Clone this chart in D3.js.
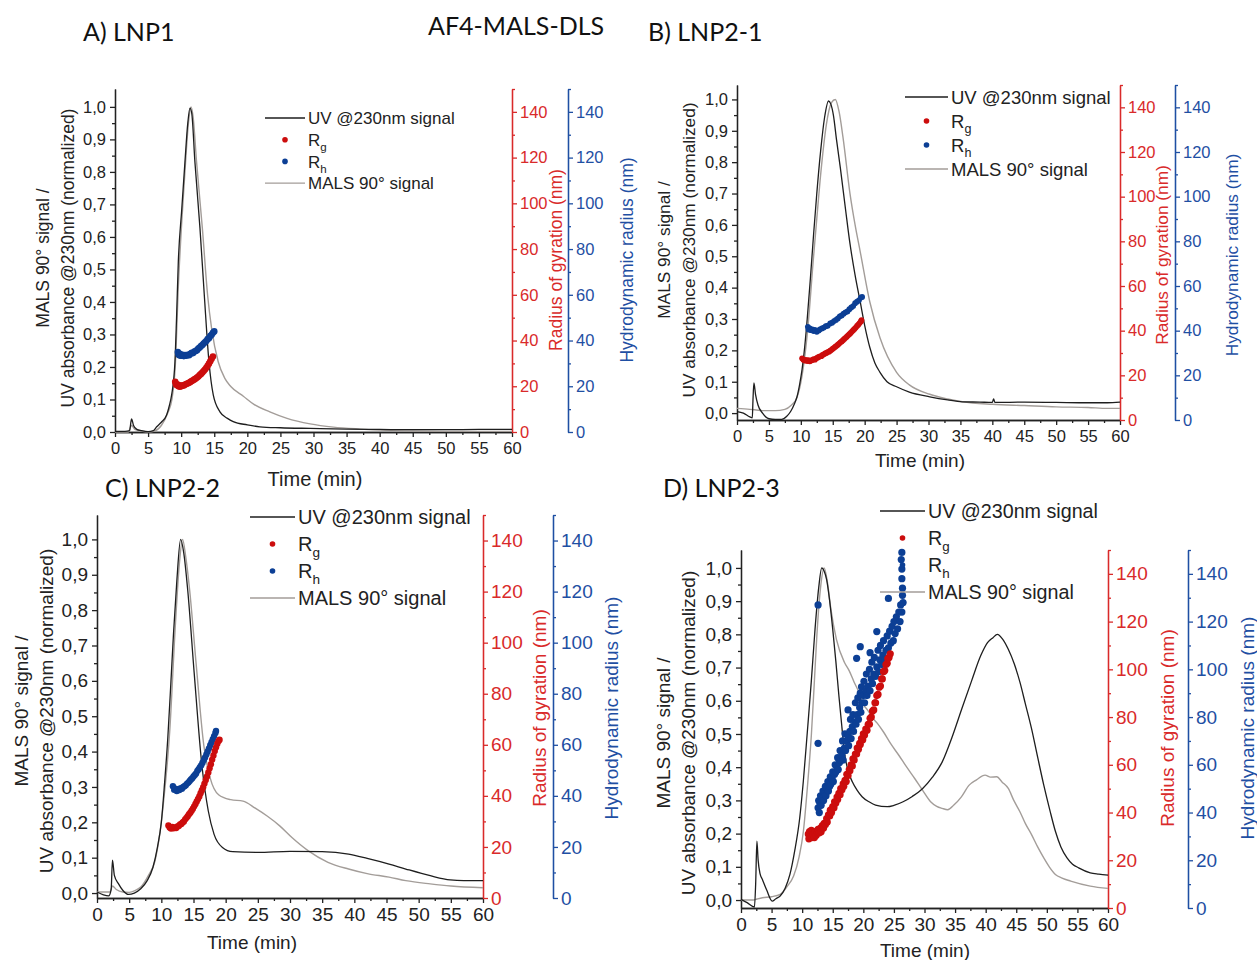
<!DOCTYPE html>
<html>
<head>
<meta charset="utf-8">
<script src="https://cdn.jsdelivr.net/npm/d3@7"></script>
<style>
  body { margin: 0; background: #fff; }
  text { font-family: "Liberation Sans", Arial, sans-serif; }
</style>
</head>
<body>
<script>
// tick values shared by all four panels
const timeTicks = [0, 5, 10, 15, 20, 25, 30, 35, 40, 45, 50, 55, 60]
const timeMinor = [2.5, 7.5, 12.5, 17.5, 22.5, 27.5, 32.5, 37.5, 42.5, 47.5, 52.5, 57.5]
const signalTicks = [0, 0.1, 0.2, 0.3, 0.4, 0.5, 0.6, 0.7, 0.8, 0.9, 1.0]
const signalMinor = [0.05, 0.15, 0.25, 0.35, 0.45, 0.55, 0.65, 0.75, 0.85, 0.95]
const radiusTicks = [0, 20, 40, 60, 80, 100, 120, 140]
const radiusMinor = [10, 30, 50, 70, 90, 110, 130, 150]
const legendNames = ['UV @230nm signal', 'R', 'R', 'MALS 90° signal']
const legendSubs = ['', 'g', 'h', '']

// A) LNP1  [time (min), value]
const uvA = [[0,0.002],[1.5,0.002],[2.2,0.004],[2.5,0.04],[2.8,0.02],[3.3,0.008],[4,0.004],[5,0.001],[5.8,0.004],[6.3,0.016],[7,0.03],[7.8,0.052],[8.2,0.08],[8.56,0.114],[9.06,0.216],[9.3,0.35],[9.57,0.524],[10.07,0.68],[10.57,0.83],[11,0.95],[11.33,0.996],[11.6,0.98],[12.08,0.83],[12.84,0.627],[13.5,0.42],[14.2,0.216],[14.85,0.114],[15.86,0.062],[17,0.042],[17.87,0.032],[20,0.022],[21.9,0.016],[25,0.013],[29.5,0.011],[35,0.009],[40,0.008],[45,0.007],[50,0.007],[55,0.008],[60,0.008]]
const malsA = [[0,0.0],[2,0.0],[2.5,0.02],[3,0.008],[4,0.003],[5,0.0],[6,0.003],[7,0.02],[8,0.06],[8.6,0.1],[9.1,0.2],[9.6,0.46],[10.1,0.65],[10.6,0.81],[11.1,0.95],[11.5,1.0],[11.8,0.97],[12.33,0.83],[13.2,0.627],[14.0,0.42],[14.6,0.319],[15.6,0.216],[16.6,0.165],[17.5,0.14],[19.4,0.11],[21,0.085],[23.4,0.062],[26,0.042],[29.5,0.025],[33,0.015],[37,0.009],[41,0.005],[45,0.003],[50,0.002],[55,0.002],[60,0.002]]
const rgA = [[9.1,22.0],[9.2,21.0],[9.3,20.6],[9.4,20.9],[9.5,20.3],[9.6,20.0],[9.7,20.4],[9.8,19.8],[9.9,20.2],[10.0,20.0],[10.2,20.4],[10.4,20.3],[10.6,20.8],[10.8,21.0],[11.0,21.3],[11.2,21.5],[11.4,21.9],[11.6,22.3],[11.8,22.6],[12.0,23.0],[12.2,23.4],[12.4,23.8],[12.6,24.3],[12.8,24.9],[13.0,25.4],[13.2,26.0],[13.4,26.7],[13.6,27.3],[13.8,28.1],[14.0,29.0],[14.2,29.9],[14.4,30.9],[14.6,32.0],[14.8,33.0]]
const rhA = [[9.5,35.0],[9.6,34.0],[9.7,33.6],[9.8,34.2],[9.9,33.5],[10.0,33.4],[10.2,33.8],[10.4,33.2],[10.6,33.6],[10.8,33.4],[11.0,33.8],[11.2,33.6],[11.4,34.2],[11.6,34.6],[11.8,34.5],[12.0,35.2],[12.2,35.4],[12.4,35.8],[12.6,36.5],[12.8,36.9],[13.0,37.6],[13.2,38.0],[13.4,38.7],[13.6,39.2],[13.8,39.8],[14.0,40.6],[14.2,41.0],[14.4,42.0],[14.6,42.5],[14.8,43.4],[15.0,44.0]]

// B) LNP2-1
const uvB = [[0,0.005],[1,0.0],[2,-0.012],[2.4,-0.015],[2.5,0.04],[2.65,0.096],[2.9,0.06],[3.3,0.025],[4,0.0],[5,-0.018],[6,-0.02],[7,-0.02],[7.8,-0.01],[8.4,0.005],[9,0.03],[9.4,0.052],[9.8,0.09],[10.2,0.14],[10.6,0.21],[11,0.30],[11.5,0.43],[12,0.57],[12.5,0.7],[13.1,0.835],[13.7,0.94],[14.35,0.995],[14.7,0.985],[15.1,0.95],[15.6,0.87],[16.2,0.78],[17,0.65],[17.7,0.54],[18.5,0.44],[19.3,0.355],[20,0.28],[20.8,0.21],[21.6,0.16],[22.4,0.13],[23.5,0.1],[25,0.084],[27,0.067],[30.2,0.052],[33,0.042],[35.3,0.036],[38,0.035],[40,0.034],[40.2,0.045],[40.4,0.034],[45,0.035],[50,0.034],[55,0.033],[58,0.033],[60,0.035]]
const malsB = [[0,0.015],[2,0.012],[3,0.01],[4,0.008],[6,0.008],[7.5,0.012],[8.5,0.025],[9.4,0.05],[10.2,0.12],[11,0.25],[12,0.50],[12.5,0.62],[13.2,0.78],[14,0.92],[14.8,0.99],[15.4,1.0],[16,0.96],[16.6,0.88],[17.7,0.70],[18.5,0.6],[19.3,0.515],[20.8,0.355],[22.4,0.24],[25,0.13],[27,0.09],[30.2,0.06],[33,0.045],[35.3,0.036],[40,0.028],[45,0.024],[50,0.02],[55,0.018],[58,0.015],[60,0.015]]
const rgB = [[10.2,27.6],[10.4,27.0],[10.6,26.6],[10.8,26.9],[11.0,26.4],[11.2,26.8],[11.4,26.3],[11.6,26.6],[11.8,26.9],[12.0,27.2],[12.2,27.0],[12.4,27.6],[12.6,27.9],[12.8,28.2],[13.0,28.5],[13.2,28.6],[13.4,29.1],[13.6,29.4],[13.8,29.8],[14.0,30.0],[14.2,30.4],[14.4,30.6],[14.6,31.0],[14.8,31.4],[15.0,31.9],[15.2,32.3],[15.4,32.8],[15.6,33.2],[15.8,33.7],[16.0,34.2],[16.2,34.8],[16.4,35.2],[16.6,35.7],[16.8,36.3],[17.0,36.8],[17.2,37.3],[17.4,37.9],[17.6,38.4],[17.8,39.0],[18.0,39.6],[18.2,40.2],[18.4,40.8],[18.6,41.4],[18.8,42.1],[19.0,42.7],[19.2,43.4],[19.4,44.1],[19.5,44.7]]
const rhB = [[11.1,41.7],[11.2,40.5],[11.4,41.0],[11.6,40.2],[11.8,40.6],[12.0,39.8],[12.2,40.3],[12.5,39.5],[12.8,40.1],[13.0,40.6],[13.3,41.0],[13.6,41.4],[13.9,42.0],[14.2,42.2],[14.6,43.2],[14.9,43.6],[15.2,44.3],[15.5,44.8],[15.8,45.5],[16.1,46.4],[16.4,46.8],[16.7,47.6],[17.0,48.2],[17.3,48.6],[17.6,49.6],[17.9,50.4],[18.2,51.0],[18.5,52.3],[18.8,53.0],[19.1,53.6],[19.4,54.8],[19.6,55.1]]

// C) LNP2-2
const uvC = [[0,0.003],[1,-0.005],[1.8,-0.008],[2.2,0.01],[2.4,0.093],[2.7,0.05],[3.35,0.026],[4,0.008],[4.9,-0.004],[5.8,0.0],[6.8,0.012],[7.8,0.035],[8.7,0.073],[9.4,0.13],[10,0.2],[10.5,0.31],[11,0.437],[11.5,0.6],[11.9,0.736],[12.4,0.88],[13.0,1.0],[13.5,0.96],[14.1,0.857],[15.1,0.624],[16.3,0.362],[17.3,0.232],[18.2,0.166],[19.5,0.129],[21.1,0.117],[25,0.115],[30,0.118],[35,0.117],[39.1,0.11],[42,0.098],[45.4,0.082],[48,0.068],[51.8,0.049],[54.9,0.037],[57,0.035],[60,0.035]]
const malsC = [[0,0.003],[2,0.003],[2.4,0.02],[3,0.01],[4,0.003],[5,0.002],[6,0.008],[6.8,0.017],[8,0.05],[9,0.09],[9.7,0.16],[10.3,0.25],[11.3,0.456],[12.2,0.764],[12.8,0.93],[13.3,1.0],[13.8,0.95],[14.4,0.857],[15.4,0.65],[16.6,0.418],[17.6,0.325],[18.9,0.278],[20.8,0.264],[22.7,0.26],[24.6,0.24],[26.5,0.217],[28.4,0.19],[30.3,0.157],[32.8,0.12],[35.9,0.087],[39.1,0.068],[42,0.055],[45.4,0.045],[48,0.035],[51.8,0.026],[55,0.02],[60,0.015]]
const rgC = [[11.1,28.4],[11.3,27.6],[11.5,27.2],[11.7,27.8],[11.9,27.3],[12.1,27.6],[12.3,27.4],[12.5,28.0],[12.7,28.2],[12.9,28.8],[13.1,29.0],[13.3,29.6],[13.5,30.0],[13.7,30.8],[13.9,31.4],[14.1,32.0],[14.3,32.8],[14.5,33.4],[14.7,34.2],[14.9,35.0],[15.1,35.9],[15.3,36.8],[15.5,37.8],[15.7,38.8],[15.9,39.8],[16.1,41.0],[16.3,42.2],[16.5,43.4],[16.7,44.8],[16.9,46.2],[17.1,47.6],[17.3,49.2],[17.5,50.8],[17.7,52.4],[17.9,54.2],[18.1,55.8],[18.3,57.6],[18.5,59.0],[18.7,60.4],[18.9,61.5],[19.05,62.0]]
const rhC = [[11.8,43.8],[12.0,42.4],[12.2,42.8],[12.4,41.9],[12.6,42.6],[12.8,42.3],[13.0,43.0],[13.2,42.8],[13.4,43.5],[13.6,43.8],[13.8,44.2],[14.0,44.8],[14.2,45.2],[14.4,45.8],[14.6,46.4],[14.8,46.9],[15.0,47.6],[15.2,48.2],[15.4,48.8],[15.6,49.8],[15.8,50.4],[16.0,51.2],[16.2,52.0],[16.4,53.0],[16.6,54.0],[16.8,55.0],[17.0,56.2],[17.2,57.4],[17.4,58.6],[17.6,59.8],[17.8,61.0],[18.0,62.2],[18.2,63.4],[18.4,64.6],[18.5,65.4]]

// D) LNP2-3
const uvD = [[0,0.002],[1,-0.008],[2.2,-0.021],[2.4,0.05],[2.6,0.177],[2.8,0.12],[3.1,0.08],[3.5,0.062],[4.2,0.03],[5.1,-0.003],[5.7,0.004],[6.4,0.012],[7.2,0.035],[8,0.077],[8.8,0.15],[9.6,0.247],[10.2,0.36],[10.8,0.496],[11.5,0.66],[12.1,0.815],[12.7,0.94],[13.2,1.0],[13.6,0.99],[14,0.965],[14.5,0.9],[15,0.815],[15.5,0.72],[16,0.616],[16.5,0.52],[16.9,0.446],[17.5,0.39],[18.2,0.356],[19,0.33],[19.8,0.311],[21,0.295],[22,0.286],[23.9,0.281],[25,0.285],[26.5,0.296],[28,0.312],[29.7,0.336],[31.3,0.37],[32.9,0.416],[34.5,0.49],[36.1,0.576],[37.7,0.66],[39.2,0.736],[40.3,0.775],[41.2,0.79],[41.9,0.8],[42.8,0.785],[43.7,0.755],[44.7,0.71],[45.6,0.656],[46.5,0.59],[47.5,0.516],[48.5,0.43],[49.5,0.346],[50.5,0.27],[51.4,0.207],[52.3,0.16],[53.3,0.127],[54.2,0.108],[55.2,0.097],[57.1,0.082],[58.5,0.078],[60,0.075]]
const malsD = [[0,0.0],[2,0.0],[2.6,0.003],[3.5,0.007],[5,0.01],[6.4,0.017],[7.5,0.04],[8.6,0.072],[9.5,0.13],[10.2,0.207],[10.9,0.35],[11.5,0.496],[12,0.66],[12.4,0.795],[13,0.94],[13.6,1.0],[14.1,0.96],[14.7,0.875],[15.6,0.785],[16.9,0.716],[17.7,0.69],[18.5,0.656],[19.3,0.625],[20.1,0.586],[20.7,0.572],[21.4,0.551],[22.3,0.532],[23.3,0.506],[24.5,0.47],[25.8,0.436],[27.1,0.4],[28.4,0.366],[29.7,0.33],[31,0.296],[32,0.282],[32.9,0.276],[33.8,0.272],[34.8,0.286],[36,0.31],[37.3,0.346],[38.5,0.362],[39.9,0.376],[40.8,0.37],[41.8,0.371],[42.7,0.355],[43.7,0.336],[44.6,0.3],[45.6,0.266],[46.5,0.23],[47.5,0.197],[48.5,0.16],[49.5,0.127],[50.4,0.1],[51.4,0.077],[52.5,0.066],[53.9,0.057],[57.1,0.042],[60,0.035]]
const rgD = [[11.0,31],[11.1,29],[11.2,32],[11.4,30],[11.5,32.5],[11.6,29.5],[11.8,31],[12.0,29.5],[12.1,32],[12.3,30.5],[12.5,31.5],[12.6,33],[12.8,31.5],[13.0,33.5],[13.1,32],[13.3,34.5],[13.5,33.5],[13.6,35.5],[13.8,35],[14.0,37.5],[14.1,36],[14.3,39],[14.5,38.5],[14.6,41],[14.8,40],[15.0,42.5],[15.2,42],[15.3,44.5],[15.5,44],[15.7,46.5],[15.8,45.5],[16.0,48],[16.2,47.5],[16.3,50],[16.5,49.5],[16.7,52],[16.8,51],[17.0,53.5],[17.2,53],[17.3,56],[17.5,55.5],[17.7,58],[17.8,57.5],[18.0,60],[18.2,59.5],[18.3,62.5],[18.5,62],[18.7,64.5],[18.9,64.5],[19.0,67],[19.2,66.5],[19.4,69],[19.5,68.5],[19.7,71],[19.9,70.5],[20.0,73],[20.2,72.5],[20.4,75],[20.6,74.5],[20.8,77],[21.0,77],[21.1,79.5],[21.3,80],[21.5,82.5],[21.7,83],[21.9,86],[22.0,86],[22.2,89],[22.4,89.5],[22.6,92.5],[22.8,93],[23.0,96],[23.1,96],[23.3,99],[23.5,99.5],[23.7,102],[23.9,102.5],[24.0,104.5],[24.2,105],[24.4,106.5]]
const rhD = [[12.6,127],[12.6,69],[12.6,42],[12.7,45],[12.8,40],[12.9,44],[13.0,47],[13.1,43],[13.3,46],[13.4,49],[13.5,45],[13.7,48],[13.8,51],[13.9,47],[14.1,50],[14.2,53],[14.3,49],[14.5,51],[14.6,55],[14.7,52],[14.9,54],[15.0,57],[15.1,53],[15.3,56],[15.4,60],[15.5,57],[15.7,59],[15.8,63],[15.9,58],[16.1,61],[16.2,66],[16.3,62],[16.5,64],[16.6,70],[16.7,62],[16.9,67],[17.0,73],[17.1,66],[17.3,70],[17.5,83],[17.5,72],[17.6,68],[17.8,74],[17.9,79],[18.0,71],[18.2,76],[18.3,81],[18.4,74],[18.6,78],[18.7,86],[18.8,77],[18.9,104.6],[19.0,81],[19.1,88],[19.2,79],[19.4,84],[19.5,109.5],[19.5,90],[19.6,82],[19.7,92.7],[19.8,86],[20.0,89],[20.1,95],[20.2,86],[20.4,91],[20.5,98],[20.6,89],[20.8,93],[21.0,100],[21.1,107],[21.1,91],[21.3,96],[21.4,103],[21.5,94],[21.7,98],[21.8,105],[22.0,97],[22.2,115.8],[22.2,101],[22.4,108],[22.5,99],[22.7,104],[22.8,110],[23.0,102],[23.2,106],[23.3,112],[23.5,104],[23.7,108],[23.9,114],[24.1,129.7],[24.1,109],[24.3,116],[24.5,111],[24.7,118],[24.9,112],[25.0,120],[25.2,115],[25.4,122],[25.6,117],[25.8,124],[26.0,120],[26.1,127],[26.3,124],[26.4,131],[26.5,128],[26.4,134],[26.3,138],[26.3,142],[26.2,146],[26.3,149]]

const RED = '#d92a2a'
const BLUE = '#1f4fa3'
const RED_DOT = '#cc0d0d'
const BLUE_DOT = '#0c3f95'

const svg = d3.select('body').append('svg')
  .attr('width', 1257)
  .attr('height', 960)

// panel headings
const headings = [
  { text: 'A) LNP1', x: 83, y: 41 },
  { text: 'AF4-MALS-DLS', x: 428, y: 35 },
  { text: 'B) LNP2-1', x: 648, y: 41 },
  { text: 'C) LNP2-2', x: 105, y: 497 },
  { text: 'D) LNP2-3', x: 663, y: 497 }
]
svg.selectAll('text.heading').data(headings).enter().append('text')
  .attr('class', 'heading')
  .attr('x', d => d.x)
  .attr('y', d => d.y)
  .attr('font-size', 25)
  .style('font-family', 'Lato, "Open Sans", sans-serif')
  .attr('fill', '#111')
  .text(d => d.text)

function drawPanel(p) {
  const g = svg.append('g')
  const x = d3.scaleLinear().domain([0, 60]).range([p.left, p.right])
  const y = d3.scaleLinear().domain(p.yDomain).range([p.bottom, p.top])
  const rad = d3.scaleLinear().domain([0, 150]).range([p.bottom, p.top])
  const comma = d => d3.format('.1f')(d).replace('.', ',')

  const styleAxis = (a, color) => {
    a.attr('font-family', '"Liberation Sans", Arial, sans-serif').attr('font-size', p.fs)
    a.selectAll('path, line').attr('stroke', color).attr('stroke-width', 1.3)
    a.selectAll('text').attr('fill', color)
  }

  // bottom axis
  g.append('g').attr('transform', `translate(0,${p.bottom})`)
    .call(d3.axisBottom(x).tickValues(timeMinor).tickSize(3).tickSizeOuter(0).tickFormat(''))
    .call(a => styleAxis(a, '#222'))
  g.append('g').attr('transform', `translate(0,${p.bottom})`)
    .call(d3.axisBottom(x).tickValues(timeTicks).tickSize(5).tickSizeOuter(0).tickPadding(5))
    .call(a => styleAxis(a, '#222'))

  // left axis
  g.append('g').attr('transform', `translate(${p.left},0)`)
    .call(d3.axisLeft(y).tickValues(signalMinor).tickSize(3).tickSizeOuter(0).tickFormat(''))
    .call(a => styleAxis(a, '#222'))
  g.append('g').attr('transform', `translate(${p.left},0)`)
    .call(d3.axisLeft(y).tickValues(signalTicks).tickSize(5).tickSizeOuter(0).tickPadding(4).tickFormat(comma))
    .call(a => styleAxis(a, '#222'))

  // right axes: radius of gyration (red) and hydrodynamic radius (blue)
  const rightAxis = (xPos, color) => {
    g.append('g').attr('transform', `translate(${xPos},0)`)
      .call(d3.axisRight(rad).tickValues(radiusMinor).tickSize(3).tickSizeOuter(0).tickFormat(''))
      .call(a => styleAxis(a, color))
    g.append('g').attr('transform', `translate(${xPos},0)`)
      .call(d3.axisRight(rad).tickValues(radiusTicks).tickSize(5).tickSizeOuter(0).tickPadding(3))
      .call(a => styleAxis(a, color))
  }
  rightAxis(p.right, RED)
  rightAxis(p.blueX, BLUE)

  // axis titles
  const vTitle = (xPos, yPos, text, color) => {
    g.append('text')
      .attr('transform', `translate(${xPos},${yPos}) rotate(-90)`)
      .attr('text-anchor', 'middle')
      .attr('font-size', p.tfs)
      .attr('fill', color)
      .text(text)
  }
  vTitle(p.leftTitleX[0], p.leftTitleY, 'MALS 90° signal /', '#222')
  vTitle(p.leftTitleX[1], p.leftTitleY, 'UV absorbance @230nm (normalized)', '#222')
  vTitle(p.redTitleX, p.rightTitleY, 'Radius of gyration (nm)', RED)
  vTitle(p.blueTitleX, p.rightTitleY, 'Hydrodynamic radius (nm)', BLUE)
  g.append('text')
    .attr('x', p.timeX).attr('y', p.timeY)
    .attr('text-anchor', 'middle')
    .attr('font-size', p.timeFs)
    .attr('fill', '#222')
    .text('Time (min)')

  // signals
  const line = d3.line().x(d => x(d[0])).y(d => y(d[1])).curve(d3.curveMonotoneX)
  g.append('path').datum(p.mals).attr('d', line)
    .attr('fill', 'none').attr('stroke', '#a39d99').attr('stroke-width', 1.4)
  g.append('path').datum(p.uv).attr('d', line)
    .attr('fill', 'none').attr('stroke', '#1e1e1e').attr('stroke-width', 1.3)

  // radii
  g.append('g').selectAll('circle').data(p.rh).enter().append('circle')
    .attr('cx', d => x(d[0])).attr('cy', d => rad(d[1])).attr('r', p.dotR).attr('fill', BLUE_DOT)
  g.append('g').selectAll('circle').data(p.rg).enter().append('circle')
    .attr('cx', d => x(d[0])).attr('cy', d => rad(d[1])).attr('r', p.dotR).attr('fill', RED_DOT)

  // legend
  const L = p.legend
  legendNames.forEach((name, i) => {
    const ly = L.y + i * L.dy
    if (i === 0 || i === 3) {
      g.append('line').attr('x1', L.x0).attr('x2', L.x1).attr('y1', ly).attr('y2', ly)
        .attr('stroke', i === 0 ? '#1e1e1e' : '#a39d99').attr('stroke-width', 1.4)
    } else {
      g.append('circle').attr('cx', (L.x0 + L.x1) / 2).attr('cy', ly).attr('r', 2.8)
        .attr('fill', i === 1 ? RED_DOT : BLUE_DOT)
    }
    const t = g.append('text').attr('x', L.x1 + 3).attr('y', ly + L.fs * 0.36)
      .attr('font-size', L.fs).attr('fill', '#222').text(name)
    if (legendSubs[i]) {
      t.append('tspan').attr('dy', L.fs * 0.3).attr('font-size', L.fs * 0.68).text(legendSubs[i])
    }
  })
}

const panels = [
  { uv: uvA, mals: malsA, rg: rgA, rh: rhA,
    left: 115, right: 512, bottom: 432, top: 89, yDomain: [0, 1.055], blueX: 568,
    fs: 16.5, tfs: 17.5, timeFs: 20, dotR: 3.3,
    leftTitleX: [49, 74], leftTitleY: 258, redTitleX: 562, blueTitleX: 633, rightTitleY: 260,
    timeX: 315, timeY: 486,
    legend: { x0: 265, x1: 305, y: 118, dy: 21.7, fs: 17 } },
  { uv: uvB, mals: malsB, rg: rgB, rh: rhB,
    left: 737, right: 1120, bottom: 420, top: 85, yDomain: [-0.022, 1.046], blueX: 1175,
    fs: 16.5, tfs: 17.3, timeFs: 19, dotR: 2.9,
    leftTitleX: [670, 695], leftTitleY: 250, redTitleX: 1168, blueTitleX: 1238, rightTitleY: 255,
    timeX: 920, timeY: 467,
    legend: { x0: 905, x1: 948, y: 97, dy: 24, fs: 18.5 } },
  { uv: uvC, mals: malsC, rg: rgC, rh: rhC,
    left: 97, right: 483, bottom: 898, top: 515, yDomain: [-0.014, 1.069], blueX: 553,
    fs: 19, tfs: 19, timeFs: 19, dotR: 3.2,
    leftTitleX: [28, 53], leftTitleY: 711, redTitleX: 546, blueTitleX: 618, rightTitleY: 708,
    timeX: 252, timeY: 949,
    legend: { x0: 250, x1: 295, y: 517, dy: 27, fs: 20 } },
  { uv: uvD, mals: malsD, rg: rgD, rh: rhD,
    left: 741, right: 1108, bottom: 908, top: 550, yDomain: [-0.024, 1.054], blueX: 1188,
    fs: 19, tfs: 19, timeFs: 19, dotR: 3.6,
    leftTitleX: [670, 695], leftTitleY: 733, redTitleX: 1174, blueTitleX: 1254, rightTitleY: 728,
    timeX: 925, timeY: 957,
    legend: { x0: 880, x1: 925, y: 511, dy: 27, fs: 19.7 } }
]

panels.forEach(p => drawPanel(p))
</script>
</body>
</html>
